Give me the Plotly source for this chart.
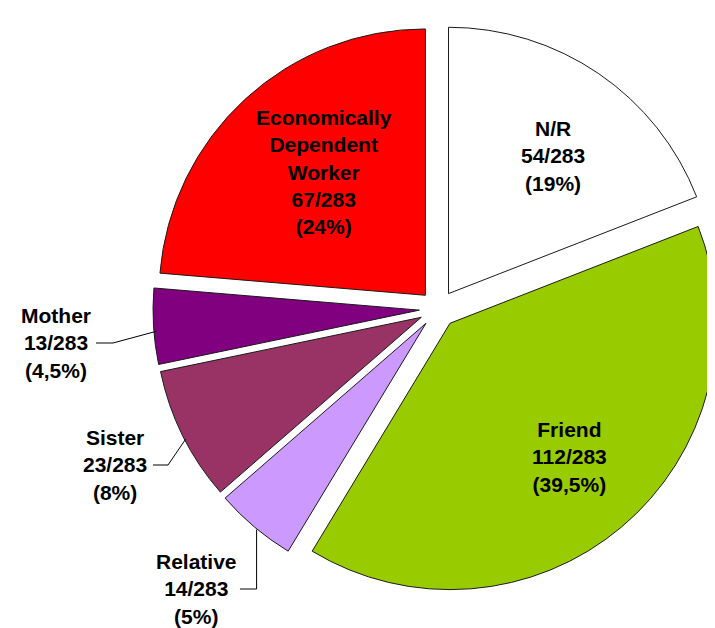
import math
import plotly.graph_objects as go

W, H = 715, 628

# slices, clockwise from 12 o'clock
labels = ["N/R", "Friend", "Relative", "Sister", "Mother", "Economically Dependent Worker"]
values = [54, 112, 14, 23, 13, 67]
pct_text = ["19%", "39,5%", "5%", "8%", "4,5%", "24%"]
colors = ["#FFFFFF", "#99CC00", "#CC99FF", "#993366", "#800080", "#FF0000"]
total = sum(values)

# label placement (pixel centre of the text block), and which get a leader line
label_lines = ["N/R", "Friend", "Relative", "Sister", "Mother", "Economically<br>Dependent<br>Worker"]
label_pos = [(545, 148), (561, 449), (188, 581), (107, 457), (48, 335), (316, 164)]
outside = [False, False, True, True, True, False]
# where the leader line leaves the text: (start x, elbow x) on the middle text line
leader_start = [None, None, (232, 248), (145, 160), (88, 105), None]

pull = 0.07
dom_x = [0.2028, 1.0]
dom_y = [0.0414, 1.0]

fig = go.Figure(go.Pie(
    labels=labels,
    values=values,
    sort=False,
    direction="clockwise",
    rotation=0,
    pull=pull,
    marker=dict(colors=colors, line=dict(color="#1a1a1a", width=1)),
    textinfo="none",
    hoverinfo="label+value",
    domain=dict(x=dom_x, y=dom_y),
))

def px(x):
    return x / W

def py(y):
    return 1 - y / H

# roughly the geometry plotly uses for the pie, so leader lines reach the slices
cx = W * (dom_x[0] + dom_x[1]) / 2
cy = H * (2 - dom_y[0] - dom_y[1]) / 2 + 5
r = min(W * (dom_x[1] - dom_x[0]) / 2, H * (dom_y[1] - dom_y[0]) / 2) / (1 + pull) - 3
d = r * pull

cum = 0
for i, v in enumerate(values):
    mid = 2 * math.pi * (cum + v / 2) / total
    cum += v
    tx, ty = label_pos[i]
    text = f"<b>{label_lines[i]}<br>{v}/{total}<br>({pct_text[i]})</b>"
    fig.add_annotation(
        x=px(tx), y=py(ty), xref="paper", yref="paper",
        text=text, showarrow=False, align="center",
        xanchor="center", yanchor="middle",
        font=dict(family="Liberation Sans, Arial, sans-serif", size=21, color="#000000"),
    )
    if outside[i]:
        ex = cx + (r + d) * math.sin(mid)
        ey = cy - (r + d) * math.cos(mid)
        sx, kx = leader_start[i]
        if i == 2:
            kx = ex
        fig.add_shape(
            type="path", xref="paper", yref="paper",
            path=f"M {px(sx)},{py(ty)} L {px(kx)},{py(ty)} L {px(ex)},{py(ey)}",
            line=dict(color="#000000", width=1),
        )

fig.update_layout(
    width=W,
    height=H,
    margin=dict(l=0, r=0, t=0, b=0),
    showlegend=False,
    paper_bgcolor="white",
    plot_bgcolor="white",
)

fig.write_html("out.html")
